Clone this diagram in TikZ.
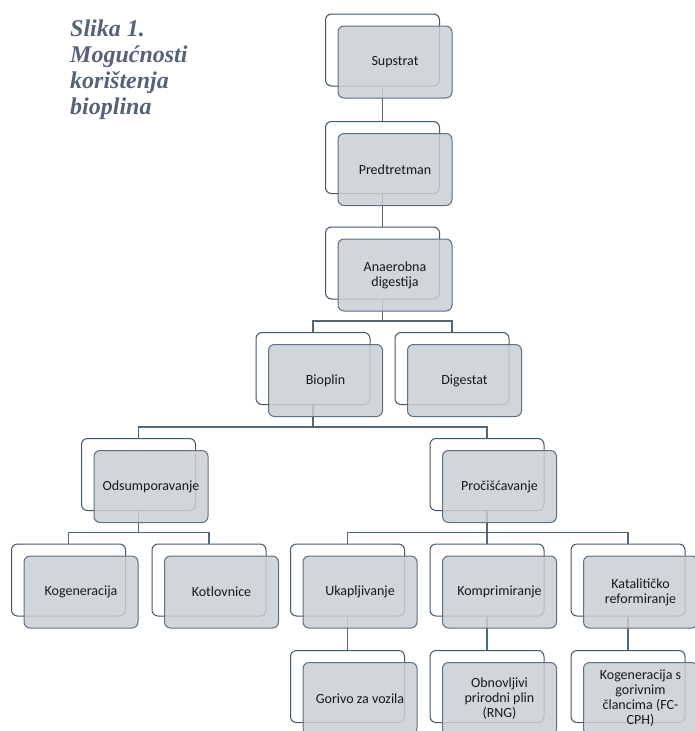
\documentclass[tikz,border=0pt]{standalone}
\usepackage{fontspec}
\setmainfont{Liberation Serif}
\newfontfamily\boxfont{Carlito}
\usetikzlibrary{positioning}
\definecolor{edgeblue}{HTML}{44566B}
\definecolor{fillgray}{HTML}{C8CFD4}
\definecolor{titleblue}{HTML}{56627A}
\definecolor{linkblue}{HTML}{53667A}

\begin{document}
\begin{tikzpicture}[x=1pt, y=-1pt, on grid,
    back/.style={rectangle, rounded corners=6pt, draw=edgeblue, fill=white,
      line width=1pt, minimum width=114pt, minimum height=72pt, inner sep=0pt},
    front/.style={back, fill=fillgray, fill opacity=.85, text opacity=1,
      draw=edgeblue!85, align=center, text=black!90,
      font=\boxfont\fontsize{14}{15}\selectfont},
    tree/.style={to path={(\tikztostart.south) |- ([yshift=11pt]\tikztotarget.north)
        -| (\tikztotarget.north)}},
    link/.style={draw=linkblue, line width=1.3pt}]
  \useasboundingbox (0,0) rectangle (695,731);
  \node[anchor=north west, inner sep=0pt, align=left, text=titleblue,
    font=\bfseries\itshape\fontsize{24}{26}\selectfont] (title) at (70,20)
  {Slika 1.\\Mogućnosti\\korištenja\\bioplina};
  % white boxes behind
  \node[back] (sup) at (382.5,50) {};%
  \node[back] (pre) at (382.5,157.5) {};%
  \node[back] (ana) at (382.5,263) {};%
  \node[back] (bio) at (313,368.5) {};%
  \node[back] (dig) at (452,368.5) {};%
  \node[back] (ods) at (138.5,474.5) {};%
  \node[back] (pro) at (487,474.5) {};%
  \node[back] (kog) at (68.5,580) {};%
  \node[back] (kot) at (209,580) {};%
  \node[back] (uka) at (347.5,580) {};%
  \node[back] (kom) at (487,580) {};%
  \node[back] (kat) at (628,580) {};%
  \node[back] (gor) at (347.5,686.5) {};%
  \node[back] (obn) at (487,686.5) {};%
  \node[back] (fcc) at (628,686.5) {};%
  % connectors
  \path[link] (sup) edge[tree] (pre)%
  (pre) edge[tree] (ana)%
  (ana) edge[tree] (bio) edge[tree] (dig)%
  (bio) edge[tree] (ods) edge[tree] (pro)%
  (ods) edge[tree] (kog) edge[tree] (kot)%
  (pro) edge[tree] (uka) edge[tree] (kom) edge[tree] (kat)%
  (uka) edge[tree] (gor)%
  (kom) edge[tree] (obn)%
  (kat) edge[tree] (fcc);%
  % grey boxes in front
  \node[front, below right=12pt and 12.5pt of sup] (supF) {Supstrat};%
  \node[front, below right=12pt and 12.5pt of pre] (preF) {Predtretman};%
  \node[front, below right=12pt and 12.5pt of ana] (anaF) {Anaerobna\\digestija};%
  \node[front, below right=12pt and 12.5pt of bio] (bioF) {Bioplin};%
  \node[front, below right=12pt and 12.5pt of dig] (digF) {Digestat};%
  \node[front, below right=12pt and 12.5pt of ods] (odsF) {Odsumporavanje};%
  \node[front, below right=12pt and 12.5pt of pro] (proF) {Pročišćavanje};%
  \node[front, below right=12pt and 12.5pt of kog] (kogF) {Kogeneracija};%
  \node[front, below right=12pt and 12.5pt of kot] (kotF) {Kotlovnice};%
  \node[front, below right=12pt and 12.5pt of uka] (ukaF) {Ukapljivanje};%
  \node[front, below right=12pt and 12.5pt of kom] (komF) {Komprimiranje};%
  \node[front, below right=12pt and 12.5pt of kat] (katF) {Katalitičko\\reformiranje};%
  \node[front, below right=12pt and 12.5pt of gor] (gorF) {Gorivo za vozila};%
  \node[front, below right=12pt and 12.5pt of obn] (obnF) {Obnovljivi\\prirodni plin\\(RNG)};%
  \node[front, below right=12pt and 12.5pt of fcc] (fccF) {Kogeneracija s\\gorivnim\\člancima (FC-\\CPH)};%
\end{tikzpicture}
\end{document}
